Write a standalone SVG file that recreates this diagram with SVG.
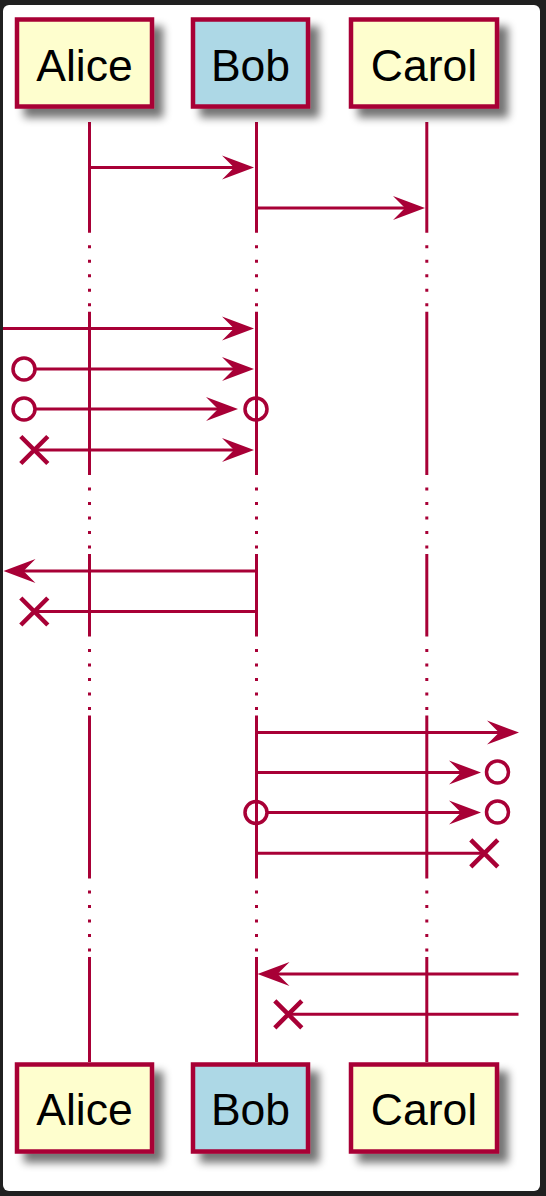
<svg xmlns="http://www.w3.org/2000/svg" xmlns:xlink="http://www.w3.org/1999/xlink" width="546" height="1196" viewBox="0 0 546 1196">
<style>
.box{stroke:#A80036;stroke-width:4.5;filter:url(#sh)}
.yel{fill:#FEFECE}
.blue{fill:#ADD8E6}
.lbl{font-family:"Liberation Sans",Arial,sans-serif;font-size:44.5px;fill:#000;text-anchor:middle}
.life{stroke:#A80036;stroke-width:3;fill:none}
.dot{stroke:#A80036;stroke-width:3;fill:none;stroke-dasharray:3 11.5}
.msg{stroke:#A80036;stroke-width:3;fill:none}
.head{fill:#A80036;stroke:none}
.circ{fill:none;stroke:#A80036;stroke-width:3.5}
.cross{stroke:#A80036;stroke-width:4.5;fill:none}
</style>
<defs>
<filter id="sh" x="-20%" y="-20%" width="150%" height="150%">
<feGaussianBlur in="SourceAlpha" stdDeviation="4.5"/>
<feOffset dx="9" dy="9" result="b"/>
<feComponentTransfer><feFuncA type="linear" slope="0.55"/></feComponentTransfer>
<feMerge><feMergeNode/><feMergeNode in="SourceGraphic"/></feMerge>
</filter>
<path id="ah" class="head" d="M0,0 L-32,-12 L-20,0 L-32,12 Z"/>
<path id="xx" class="cross" d="M-13.5,-13.5 L13.5,13.5 M-13.5,13.5 L13.5,-13.5"/>
</defs>
<rect x="0" y="0" width="546" height="1196" fill="#202020"/>
<rect x="3" y="5" width="537" height="1186" rx="6" fill="#FFFFFF"/>

<g id="connectors">
<g id="lifelines">
<path class="life" d="M89.5,122V232.7M89.5,311.7V475M89.5,554V636.5M89.5,715.5V878.5M89.5,957V1062"/>
<path class="dot" d="M89.5,245.2V306.2M89.5,487.5V548.5M89.5,649V710M89.5,890.5V951.5"/>
<path class="life" d="M256.5,122V232.7M256.5,311.7V475M256.5,554V636.5M256.5,715.5V878.5M256.5,957V1062"/>
<path class="dot" d="M256.5,245.2V306.2M256.5,487.5V548.5M256.5,649V710M256.5,890.5V951.5"/>
<path class="life" d="M426.8,122V232.7M426.8,311.7V475M426.8,554V636.5M426.8,715.5V878.5M426.8,957V1062"/>
<path class="dot" d="M426.8,245.2V306.2M426.8,487.5V548.5M426.8,649V710M426.8,890.5V951.5"/>
</g>
<g id="m1"><line class="msg" x1="89.5" y1="167.5" x2="240" y2="167.5"/><use xlink:href="#ah" transform="translate(254,167.5)"/></g>
<g id="m2"><line class="msg" x1="256.5" y1="208" x2="410" y2="208"/><use xlink:href="#ah" transform="translate(425,208)"/></g>
<g id="m3"><line class="msg" x1="3" y1="328.5" x2="240" y2="328.5"/><use xlink:href="#ah" transform="translate(254,328.5)"/></g>
<g id="m4"><circle class="circ" cx="24" cy="369" r="11"/><line class="msg" x1="35" y1="369" x2="240" y2="369"/><use xlink:href="#ah" transform="translate(254,369)"/></g>
<g id="m5"><circle class="circ" cx="24" cy="409" r="11"/><line class="msg" x1="35" y1="409" x2="224" y2="409"/><use xlink:href="#ah" transform="translate(238,409)"/><circle class="circ" cx="256" cy="409" r="11"/></g>
<g id="m6"><use xlink:href="#xx" transform="translate(34.3,450)"/><line class="msg" x1="34" y1="450" x2="240" y2="450"/><use xlink:href="#ah" transform="translate(254,450)"/></g>
<g id="m7"><line class="msg" x1="18" y1="571" x2="255" y2="571"/><use xlink:href="#ah" transform="translate(3.5,571) scale(-1,1)"/></g>
<g id="m8"><use xlink:href="#xx" transform="translate(34.3,611.5)"/><line class="msg" x1="34" y1="611.5" x2="255" y2="611.5"/></g>
<g id="m9"><line class="msg" x1="256.5" y1="732.5" x2="505" y2="732.5"/><use xlink:href="#ah" transform="translate(519,732.5)"/></g>
<g id="m10"><line class="msg" x1="256.5" y1="772.5" x2="467" y2="772.5"/><use xlink:href="#ah" transform="translate(481,772.5)"/><circle class="circ" cx="497.5" cy="772" r="11"/></g>
<g id="m11"><circle class="circ" cx="256" cy="812.5" r="11"/><line class="msg" x1="267" y1="812.5" x2="467" y2="812.5"/><use xlink:href="#ah" transform="translate(481,812.5)"/><circle class="circ" cx="497.5" cy="812" r="11"/></g>
<g id="m12"><line class="msg" x1="256.5" y1="853.3" x2="484" y2="853.3"/><use xlink:href="#xx" transform="translate(484.3,853.3)"/></g>
<g id="m13"><line class="msg" x1="518.5" y1="974" x2="272" y2="974"/><use xlink:href="#ah" transform="translate(257.5,974) scale(-1,1)"/></g>
<g id="m14"><use xlink:href="#xx" transform="translate(288.3,1014.3)"/><line class="msg" x1="289" y1="1014.3" x2="518.5" y2="1014.3"/></g>
</g>

<g id="alice-top"><rect class="box yel" x="17" y="19.5" width="135" height="87"/><text class="lbl" x="84.5" y="81">Alice</text></g>
<g id="bob-top"><rect class="box blue" x="193" y="19.5" width="115" height="87"/><text class="lbl" x="250.5" y="81">Bob</text></g>
<g id="carol-top"><rect class="box yel" x="351" y="19.5" width="146" height="87"/><text class="lbl" x="424" y="81">Carol</text></g>
<g id="alice-bottom"><rect class="box yel" x="17" y="1064.5" width="135" height="87"/><text class="lbl" x="84.5" y="1124.5">Alice</text></g>
<g id="bob-bottom"><rect class="box blue" x="193" y="1064.5" width="115" height="87"/><text class="lbl" x="250.5" y="1124.5">Bob</text></g>
<g id="carol-bottom"><rect class="box yel" x="351" y="1064.5" width="146" height="87"/><text class="lbl" x="424" y="1124.5">Carol</text></g>
</svg>
